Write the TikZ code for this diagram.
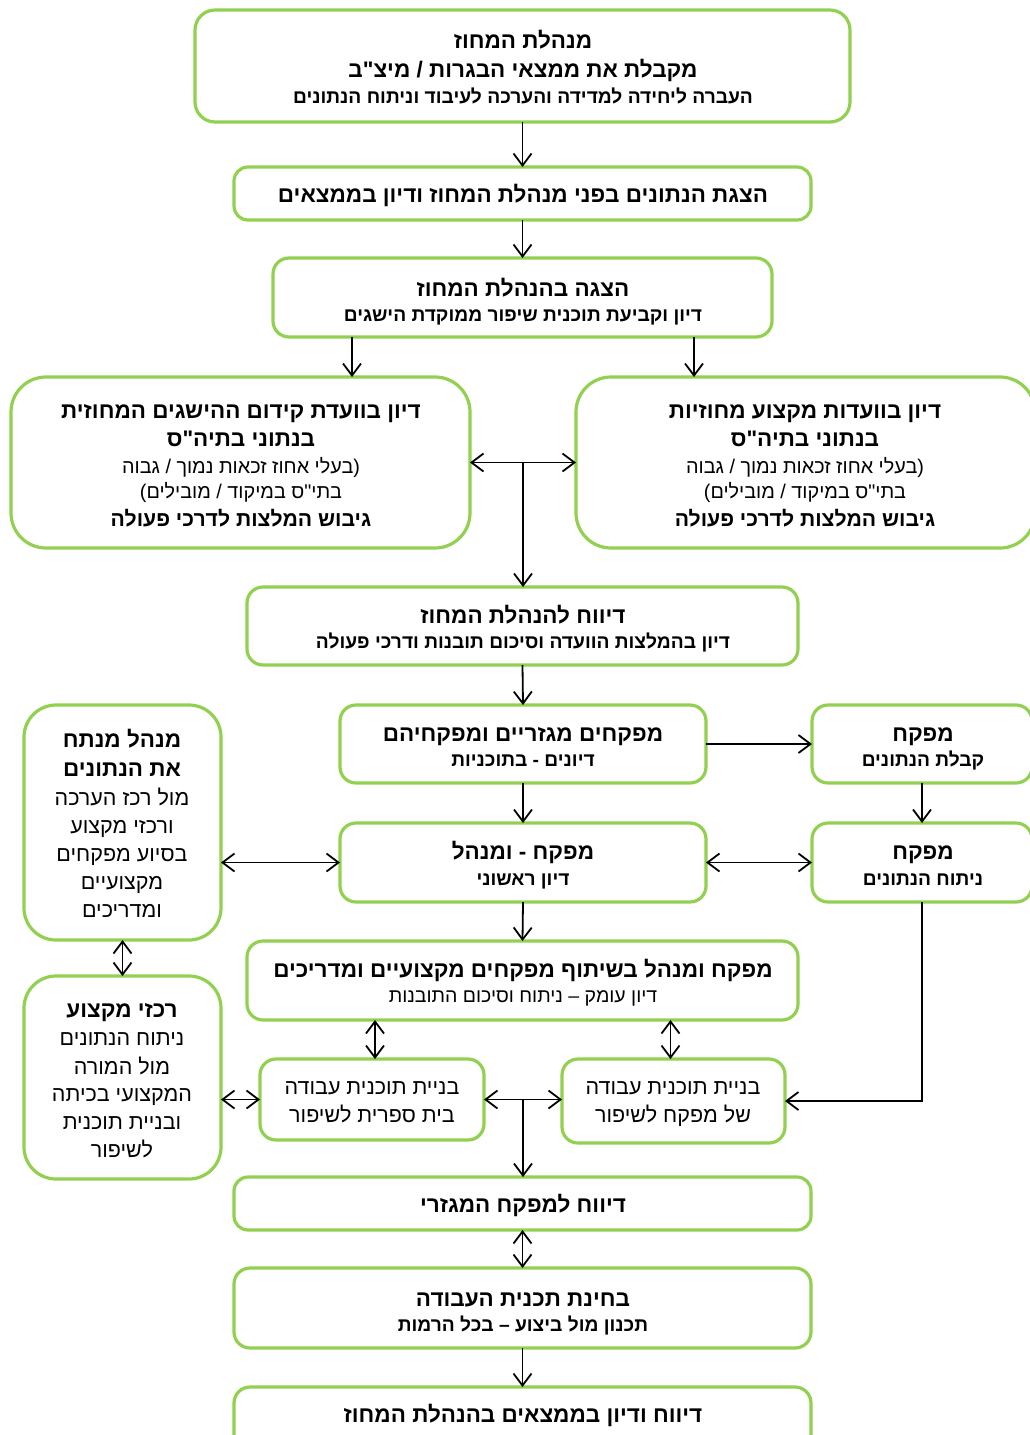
\documentclass[tikz,border=0pt]{standalone}
\usepackage{fontspec}
\usetikzlibrary{arrows.meta,calc}
\TeXXeTstate=1
\newfontfamily\heb[Script=Hebrew]{Liberation Sans}
\definecolor{boxgreen}{HTML}{92D050}
\tikzset{
  box/.style={draw=boxgreen, line width=3.2pt, fill=white, inner sep=0pt, outer sep=0pt},
  H/.style={font=\heb\bfseries\fontsize{22.5}{26}\selectfont, anchor=base, yshift=-8.3pt, inner sep=0pt},
  Hs/.style={font=\heb\bfseries\fontsize{21.2}{25}\selectfont, anchor=base, yshift=-8pt, inner sep=0pt},
  S/.style={font=\heb\bfseries\fontsize{19.2}{23}\selectfont, anchor=base, yshift=-7.2pt, inner sep=0pt},
  R/.style={font=\heb\fontsize{21.5}{25}\selectfont, anchor=base, yshift=-8pt, inner sep=0pt},
  Rb/.style={font=\heb\fontsize{19.8}{23}\selectfont, anchor=base, yshift=-7.5pt, inner sep=0pt},
  r/.style={font=\heb\fontsize{19.5}{23}\selectfont, anchor=base, yshift=-7.3pt, inner sep=0pt},
  arr/.style={-{Straight Barb[length=12pt,width=18pt]}, line width=1.8pt},
  bi/.style={{Straight Barb[length=12pt,width=18pt]}-{Straight Barb[length=12pt,width=18pt]}, line width=1.8pt},
}
\newcommand\mybox[6]{\node[box, rounded corners=#6, minimum width={#4-#2}, minimum height={#5-#3}] (#1) at ({(#2+#4)/2},{(#3+#5)/2}) {};}
\begin{document}
\begin{tikzpicture}[x=1pt,y=-1pt]
\useasboundingbox (0,0) rectangle (1030,1435);
% boxes
\mybox{b1}{195}{10}{850}{122}{20pt}
\mybox{b2}{234}{167}{811}{220}{14pt}
\mybox{b3}{273}{258}{772}{337}{16pt}
\mybox{bL}{11}{377}{470}{548}{35pt}
\mybox{bR}{576}{377}{1035}{548}{35pt}
\mybox{b6}{247}{587}{798}{665}{16pt}
\mybox{b7}{340}{705}{706}{783}{16pt}
\mybox{bTa}{812}{705}{1032}{783}{16pt}
\mybox{bLT}{24}{705}{221}{940}{32pt}
\mybox{b10}{340}{823}{706}{902}{16pt}
\mybox{bTb}{812}{823}{1032}{902}{16pt}
\mybox{b12}{247}{941}{798}{1020}{16pt}
\mybox{bLB}{24}{976}{221}{1179}{32pt}
\mybox{bA}{260}{1059}{484}{1140}{16pt}
\mybox{bB}{562}{1059}{785}{1143}{16pt}
\mybox{b16}{234}{1177}{811}{1230}{14pt}
\mybox{b17}{234}{1268}{811}{1348}{16pt}
\mybox{b18}{234}{1387}{811}{1452}{16pt}
% texts
\node[H] (t1a) at (523,40) {\beginR מנהלת המחוז\endR};
\node[H] (t1b) at (523,69) {\beginR מקבלת את ממצאי הבגרות / מיצ"ב\endR};
\node[S] (t1c) at (523,96) {\beginR העברה ליחידה למדידה והערכה לעיבוד וניתוח הנתונים\endR};
\node[H] (t2a) at (523,194) {\beginR הצגת הנתונים בפני מנהלת המחוז ודיון בממצאים\endR};
\node[H] (t3a) at (523,288) {\beginR הצגה בהנהלת המחוז\endR};
\node[S] (t3b) at (523,314) {\beginR דיון וקביעת תוכנית שיפור ממוקדת הישגים\endR};
\node[H] (tLa) at (241,410) {\beginR דיון בוועדת קידום ההישגים המחוזית\endR};
\node[H] (tLb) at (241,438) {\beginR בנתוני בתיה"ס\endR};
\node[Rb] (tLc) at (241,466) {\beginR (בעלי אחוז זכאות נמוך / גבוה\endR};
\node[Rb] (tLd) at (241,491) {\beginR בתי"ס במיקוד / מובילים)\endR};
\node[Hs] (tLe) at (241,518) {\beginR גיבוש המלצות לדרכי פעולה\endR};
\node[H] (tRa) at (805,410) {\beginR דיון בוועדות מקצוע מחוזיות\endR};
\node[H] (tRb) at (805,438) {\beginR בנתוני בתיה"ס\endR};
\node[Rb] (tRc) at (805,466) {\beginR (בעלי אחוז זכאות נמוך / גבוה\endR};
\node[Rb] (tRd) at (805,491) {\beginR בתי"ס במיקוד / מובילים)\endR};
\node[Hs] (tRe) at (805,518) {\beginR גיבוש המלצות לדרכי פעולה\endR};
\node[H] (t6a) at (523,615) {\beginR דיווח להנהלת המחוז\endR};
\node[S] (t6b) at (523,641) {\beginR דיון בהמלצות הוועדה וסיכום תובנות ודרכי פעולה\endR};
\node[H] (t7a) at (523,733) {\beginR מפקחים מגזריים ומפקחיהם\endR};
\node[S] (t7b) at (523,759) {\beginR דיונים - בתוכניות\endR};
\node[H] (tTaa) at (923,733) {\beginR מפקח\endR};
\node[S] (tTab) at (923,759) {\beginR קבלת הנתונים\endR};
\node[H] (tLTa) at (122,739) {\beginR מנהל מנתח\endR};
\node[H] (tLTb) at (122,768) {\beginR את הנתונים\endR};
\node[R] (tLTc) at (122,797) {\beginR מול רכז הערכה\endR};
\node[R] (tLTd) at (122,825) {\beginR ורכזי מקצוע\endR};
\node[R] (tLTe) at (122,853) {\beginR בסיוע מפקחים\endR};
\node[R] (tLTf) at (122,881) {\beginR מקצועיים\endR};
\node[R] (tLTg) at (122,909) {\beginR ומדריכים\endR};
\node[H] (t10a) at (523,851) {\beginR מפקח - ומנהל\endR};
\node[S] (t10b) at (523,878) {\beginR דיון ראשוני\endR};
\node[H] (tTba) at (923,851) {\beginR מפקח\endR};
\node[S] (tTbb) at (923,878) {\beginR ניתוח הנתונים\endR};
\node[H] (t12a) at (523,969) {\beginR מפקח ומנהל בשיתוף מפקחים מקצועיים ומדריכים\endR};
\node[r] (t12b) at (523,995) {\beginR דיון עומק – ניתוח וסיכום התובנות\endR};
\node[H] (tLBa) at (122,1009) {\beginR רכזי מקצוע\endR};
\node[R] (tLBb) at (122,1037) {\beginR ניתוח הנתונים\endR};
\node[R] (tLBc) at (122,1066) {\beginR מול המורה\endR};
\node[R] (tLBd) at (122,1093) {\beginR המקצועי בכיתה\endR};
\node[R] (tLBe) at (122,1121) {\beginR ובניית תוכנית\endR};
\node[R] (tLBf) at (122,1149) {\beginR לשיפור\endR};
\node[R] (tAa) at (372,1086) {\beginR בניית תוכנית עבודה\endR};
\node[R] (tAb) at (372,1114) {\beginR בית ספרית לשיפור\endR};
\node[R] (tBa) at (673,1086) {\beginR בניית תוכנית עבודה\endR};
\node[R] (tBb) at (673,1114) {\beginR של מפקח לשיפור\endR};
\node[H] (t16a) at (523,1204) {\beginR דיווח למפקח המגזרי\endR};
\node[H] (t17a) at (523,1298) {\beginR בחינת תכנית העבודה\endR};
\node[S] (t17b) at (523,1324) {\beginR תכנון מול ביצוע – בכל הרמות\endR};
\node[H] (t18a) at (523,1414) {\beginR דיווח ודיון בממצאים בהנהלת המחוז\endR};
% connectors
\draw[arr] (b1.south) -- (b2.north);
\draw[arr] (b2.south) -- (b3.north);
\draw[arr] ([xshift=-170.5pt]b3.south) -- ([xshift=111.5pt]bL.north);
\draw[arr] ([xshift=171.5pt]b3.south) -- ([xshift=-111.5pt]bR.north);
\draw[bi] (bL.east) -- (bR.west);
\coordinate (m1) at ($(bL.east)!0.5!(bR.west)$);
\draw[arr] (m1) -- (m1 |- b6.north);
\draw[arr] (b6.south) -- (b7.north);
\draw[arr] (b7.east) -- (bTa.west);
\draw[arr] (bTa.south) -- (bTb.north);
\draw[arr] (b7.south) -- (b10.north);
\draw[bi] (bLT.east |- b10.west) -- (b10.west);
\draw[bi] (b10.east) -- (bTb.west);
\draw[arr] (b10.south) -- (b12.north);
\draw[arr] (bTb.south) |- (bB.east);
\draw[bi] (bLT.south) -- (bLB.north);
\draw[bi] ([xshift=3pt]bA.north |- b12.south) -- ([xshift=3pt]bA.north);
\draw[bi] ([xshift=-3pt]bB.north |- b12.south) -- ([xshift=-3pt]bB.north);
\draw[bi] (bLB.east |- bA.west) -- (bA.west);
\draw[bi] (bA.east) -- (bA.east -| bB.west);
\coordinate (m2) at ($(bA.east)!0.5!(bA.east -| bB.west)$);
\draw[arr] (m2) -- (m2 |- b16.north);
\draw[bi] (b16.south) -- (b17.north);
\draw[arr] (b17.south) -- (b18.north);
\end{tikzpicture}
\end{document}
